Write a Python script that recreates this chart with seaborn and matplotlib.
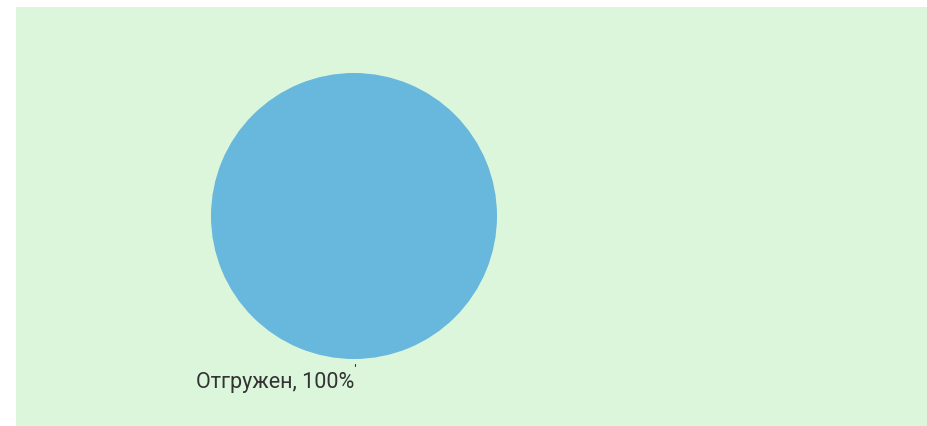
import matplotlib
matplotlib.use("Agg")
import matplotlib.pyplot as plt
import seaborn as sns

# data
categories = ["Отгружен"]
values = [100]
labels = ["%s, %d%%" % (c, v) for c, v in zip(categories, values)]

sns.set_style("white")
plt.rcParams["font.family"] = ["Roboto", "DejaVu Sans"]

W, H = 927, 427
fig = plt.figure(figsize=(W / 100, H / 100), dpi=100)
fig.patch.set_facecolor("white")

# green panel, in pixel-like data units
ax = fig.add_axes([16 / W, 0, (W - 16) / W, (H - 8) / H])
ax.set_facecolor("#dcf6dc")

cx, cy, r = 354 - 16, H - 217, 143
colors = ["#68b7dd"]
wedges, texts = ax.pie(values, labels=labels, colors=colors, startangle=90,
                       center=(cx, cy), radius=r, labeldistance=1.155,
                       frame=True, wedgeprops={"linewidth": 0},
                       textprops={"fontsize": 15.5, "color": "#333333"})
for t in texts:
    t.set_ha("right")
ax.set_xlim(0, W - 16)
ax.set_ylim(0, H - 8)
ax.set_aspect("auto")
for s in ax.spines.values():
    s.set_visible(False)
ax.set_xticks([])
ax.set_yticks([])

# tiny leader stub under the slice
ax.plot([cx + 1, cx + 1], [cy - r * 1.035, cy - r * 1.05], color="#333333", lw=0.8)

fig.savefig("out.png", dpi=100, facecolor=fig.get_facecolor())
